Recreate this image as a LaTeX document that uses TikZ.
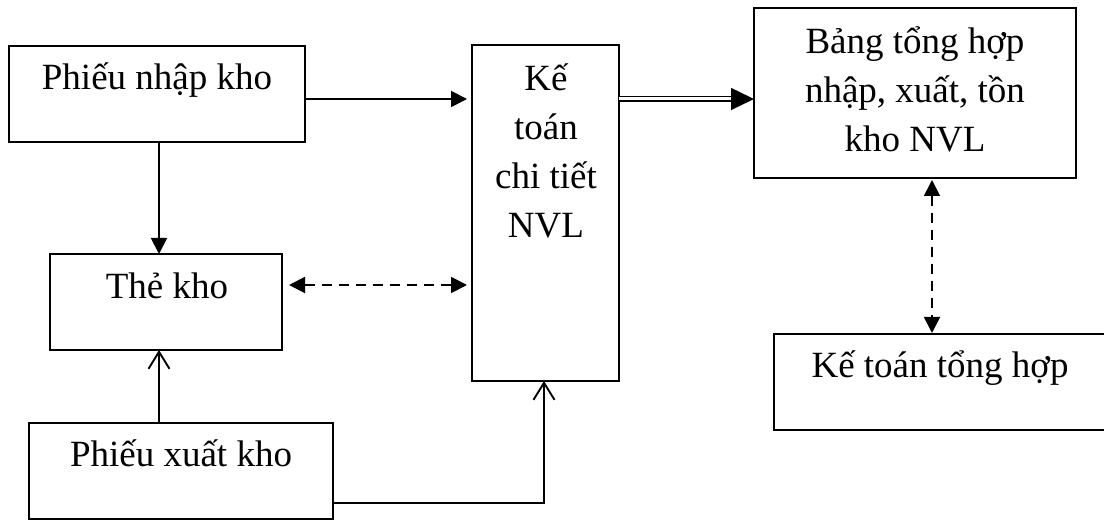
\documentclass[tikz,border=0pt]{standalone}
\usepackage{fontspec}
\setmainfont{Liberation Serif}
\usetikzlibrary{arrows.meta,calc}

\begin{document}
\begin{tikzpicture}[x=1pt,y=-1pt,
  box/.style={draw,line width=1.9pt,rectangle,inner sep=0pt,outer sep=0pt},
  lbl/.style={anchor=base,align=center,inner sep=0pt,font=\fontsize{37pt}{49pt}\selectfont},
  flow/.style={line width=1.9pt,-{Triangle[length=16pt,width=16pt]}},
  feed/.style={line width=1.9pt,-{Straight Barb[length=17pt,width=21pt,line width=1.9pt]}},
  link/.style={line width=1.9pt,dash pattern=on 10pt off 7pt,
    {Triangle[length=16pt,width=16pt]}-{Triangle[length=16pt,width=16pt]}},
  post/.style={double,line width=1.4pt,double distance=3pt,-{Triangle[length=23pt,width=22pt]}}]

% page area
\clip (0,0) rectangle (1104,521);
\fill[white] (0,0) rectangle (1104,521);

% boxes
\node[box,minimum width=296pt,minimum height=96pt] (pn) at (157,94) {};
\node[box,minimum width=232pt,minimum height=96pt] (tk) at (166,302) {};
\node[box,minimum width=304pt,minimum height=96pt] (px) at (181,471) {};
\node[box,minimum width=147pt,minimum height=336pt] (kc) at (545.5,213) {};
\node[box,minimum width=322pt,minimum height=170pt] (bt) at (915,93) {};
\node[box,minimum width=332pt,minimum height=96pt] (kt) at (940,382) {};

% labels (multi-line labels sit on the baseline of their last line)
\node[lbl] (pnT) at (157,90) {Phiếu nhập kho};
\node[lbl] (tkT) at (167,299) {Thẻ kho};
\node[lbl] (pxT) at (181,467) {Phiếu xuất kho};
\node[lbl] (kcT) at (546,238) {Kế\\toán\\chi tiết\\NVL};
\node[lbl] (btT) at (915,152) {Bảng tổng hợp\\nhập, xuất, tồn\\kho NVL};
\node[lbl] (ktT) at (940,378) {Kế toán tổng hợp};

% guide columns for the vertical connectors
\coordinate (cx) at (159,0);
\coordinate (cv) at (932,0);

% connectors
\draw[flow,shorten >=5pt] ([yshift=-5pt]pn.east) -- ([yshift=-5pt]pn.east -| kc.west);
\draw[flow] (pn.south -| cx) -- (tk.north -| cx);
\draw[link,shorten <=7pt,shorten >=5pt] ([yshift=17pt]tk.east) -- ([yshift=17pt]tk.east -| kc.west);
\draw[feed] (px.north -| cx) -- (tk.south -| cx);
\draw[feed] ([yshift=-32pt]px.east) -| ([xshift=-1.5pt]kc.south);
\draw[post] ([yshift=-5pt]pn.east -| kc.east) -- ([yshift=-5pt]pn.east -| bt.west);
\draw[link,shorten <=2pt,shorten >=1pt] (bt.south -| cv) -- (kt.north -| cv);
\end{tikzpicture}
\end{document}
